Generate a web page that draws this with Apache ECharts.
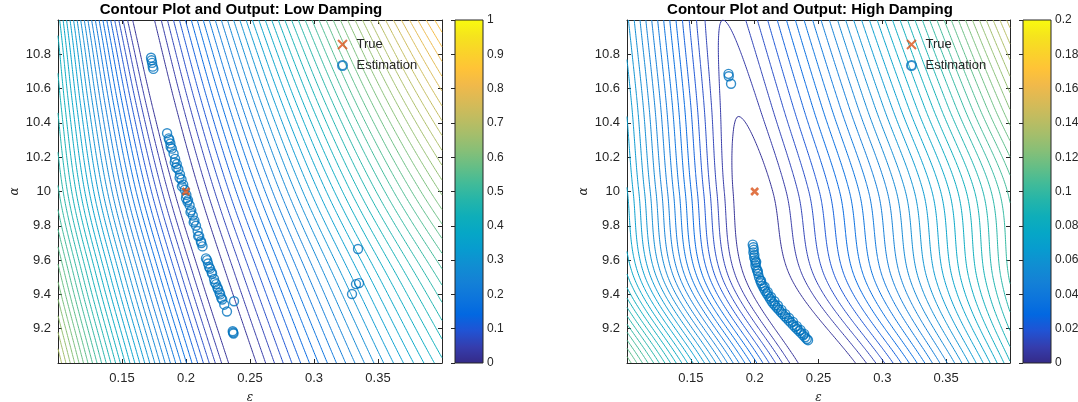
<!DOCTYPE html>
<html><head><meta charset="utf-8">
<script src="https://cdn.jsdelivr.net/npm/echarts@6/dist/echarts.min.js"></script>
<style>html,body{margin:0;padding:0;background:#fff;}#chart{width:1078px;height:402px;}</style>
</head><body><div id="chart"></div>
<script>
// ---------------- data ----------------
const titles = ['Contour Plot and Output: Low Damping', 'Contour Plot and Output: High Damping'];
const xName = 'ε', yName = 'α';
const xRange = [0.1, 0.4];
const yRange = [9, 11];
const xTickStep = 0.05, yTickStep = 0.2;
const colorRangeLow = [0, 1], colorRangeHigh = [0, 0.2];
const colorTickLow = 0.1, colorTickHigh = 0.02;
const levelStepLow = 0.02, levelStepHigh = 0.004;
const trueParams = [[0.2, 10]];
const estLow = [
  [0.1727,10.780],[0.1731,10.765],[0.1735,10.750],[0.1740,10.728],[0.1745,10.715],
  [0.1852,10.34],[0.1865,10.31],[0.1878,10.28],[0.1890,10.25],[0.1903,10.22],[0.1915,10.19],[0.1928,10.16],
  [0.1940,10.13],[0.1953,10.10],[0.1965,10.07],[0.1978,10.04],[0.1990,10.01],[0.2003,9.98],[0.2016,9.95],
  [0.2028,9.92],[0.2041,9.89],[0.2053,9.86],[0.2066,9.83],[0.2078,9.80],[0.2091,9.77],[0.2103,9.74],
  [0.2116,9.71],[0.2129,9.68],
  [0.1880,10.26],[0.1912,10.17],[0.1950,10.08],[0.1968,10.03],[0.2000,9.96],[0.2035,9.88],[0.2060,9.82],
  [0.2095,9.74],[0.2120,9.70],[0.1870,10.30],[0.1925,10.14],[0.2012,9.94],
  [0.2156,9.61],[0.2172,9.58],[0.2188,9.55],[0.2204,9.52],[0.2219,9.49],[0.2235,9.46],[0.2251,9.43],
  [0.2267,9.40],[0.2283,9.37],[0.2299,9.34],[0.2320,9.30],
  [0.2165,9.60],[0.2180,9.56],[0.2200,9.53],[0.2225,9.47],[0.2245,9.44],[0.2262,9.41],[0.2275,9.38],
  [0.2375,9.36],
  [0.2365,9.185],[0.2368,9.178],[0.2371,9.172],
  [0.3344,9.665],[0.3297,9.402],[0.3328,9.460],[0.3352,9.466]
];
const estHigh = [
  [0.1795,10.686],[0.1797,10.672],[0.1815,10.628],
  [0.1985,9.690],[0.1990,9.675],[0.1993,9.660],[0.1990,9.645],[0.1998,9.630],[0.1996,9.615],[0.2003,9.600],
  [0.2008,9.585],[0.2006,9.570],[0.2013,9.555],[0.2019,9.540],[0.2027,9.520],[0.2034,9.500],[0.2044,9.480],
  [0.2052,9.465],[0.2062,9.450],[0.2072,9.435],[0.2083,9.420],[0.2095,9.405],[0.2108,9.390],[0.2120,9.375],
  [0.2133,9.360],[0.2146,9.347],[0.2160,9.335],[0.2175,9.322],[0.2190,9.310],[0.2205,9.297],[0.2220,9.285],
  [0.2236,9.272],[0.2252,9.260],[0.2268,9.247],[0.2284,9.235],[0.2300,9.222],[0.2316,9.210],[0.2332,9.198],
  [0.2348,9.186],[0.2364,9.174],[0.2380,9.162],[0.2395,9.150],[0.2408,9.140],[0.2418,9.133],
  [0.2078,9.445],[0.2102,9.415],[0.2128,9.385],[0.2155,9.360],[0.2182,9.335],[0.2210,9.310],[0.2240,9.285],
  [0.2270,9.262],[0.2300,9.240],[0.2330,9.215],[0.2360,9.192],[0.2388,9.170],[0.2050,9.480],[0.2025,9.535],
  [0.2012,9.590]
];
// cost-surface shape estimated from the contour picture (knots along alpha)
const knotA = [9, 9.5, 10, 10.5, 11];
const lowValleyE  = [0.243, 0.221, 0.200, 0.182, 0.166];
const lowSlopeL   = [4.2, 4.4, 4.7, 5.4, 6.3];
const lowSlopeR   = [3.2, 3.5, 3.9, 4.3, 4.7];
const lowShiftR   = [0, 0, 0, 0, 0];
const lowFloor    = [0, 0, 0, 0, 0];
const lowShape    = [0.008, 1.5, -0.8];     // width, left curvature, right curvature
const highValleyE = [0.248, 0.206, 0.196, 0.186, 0.175];
const highSlopeL  = [0.92, 0.92, 0.92, 0.92, 0.92];
const highSlopeR  = [0.62, 0.50, 0.48, 0.52, 0.56];
const highShiftR  = [0.014, 0.003, 0, 0, 0];
const highFloor   = [0, 0, 0.0005, 0.0045, 0.008];
const highShape   = [0.02, 0, 0.8];
// MATLAB parula (every 3rd entry of parula(64))
const parulaStops = [
  [0.2081,0.1663,0.5292],[0.2081,0.2386,0.6771],[0.1253,0.3242,0.8303],[0.0060,0.4086,0.8828],
  [0.0498,0.4586,0.8641],[0.0779,0.5040,0.8384],[0.0641,0.5570,0.8240],[0.0265,0.6137,0.8135],
  [0.0228,0.6535,0.7768],[0.0590,0.6838,0.7254],[0.1453,0.7098,0.6646],[0.2586,0.7317,0.5954],
  [0.3953,0.7459,0.5244],[0.5300,0.7491,0.4661],[0.6473,0.7456,0.4188],[0.7525,0.7384,0.3768],
  [0.8507,0.7299,0.3360],[0.9450,0.7261,0.2886],[0.9990,0.7653,0.2164],[0.9789,0.8271,0.1633],
  [0.9589,0.8949,0.1132],[0.9763,0.9831,0.0538]
];
const colTrue = '#D95319', colEst = '#0072BD', axisCol = '#262626';
const FONT = '"Liberation Sans", Arial, Helvetica, sans-serif';

// ---------------- helpers ----------------
function spline(vals, a) {
  const h = knotA[1] - knotA[0];
  let t = (a - knotA[0]) / h;
  const n = vals.length;
  let i = Math.floor(t);
  if (i < 0) i = 0; if (i > n - 2) i = n - 2;
  const u = t - i;
  const p = k => k < 0 ? 2 * vals[0] - vals[1] : (k > n - 1 ? 2 * vals[n - 1] - vals[n - 2] : vals[k]);
  const p0 = p(i - 1), p1 = p(i), p2 = p(i + 1), p3 = p(i + 2);
  return 0.5 * ((2 * p1) + (-p0 + p2) * u + (2 * p0 - 5 * p1 + 4 * p2 - p3) * u * u + (-p0 + 3 * p1 - 3 * p2 + p3) * u * u * u);
}
function makeSurface(valley, kL, kR, shiftR, floor, shape) {
  const [w, qL, qR] = shape;
  return (e, a) => {
    let d = e - spline(valley, a);
    if (d > 0) d = Math.max(0, d - spline(shiftR, a));
    const s = Math.abs(d);
    const g = Math.sqrt(s * s + w * w) - w + (d < 0 ? qL : qR) * s * s;
    return spline(floor, a) + (d < 0 ? spline(kL, a) : spline(kR, a)) * g;
  };
}
function parula(t) {
  t = Math.max(0, Math.min(1, t));
  const n = parulaStops.length - 1, f = t * n;
  const i = Math.min(n - 1, Math.floor(f)), u = f - i;
  const c = [0, 1, 2].map(k => Math.round(255 * (parulaStops[i][k] * (1 - u) + parulaStops[i + 1][k] * u)));
  return 'rgb(' + c.join(',') + ')';
}
function contourLines(xs, ys, Z, L) {
  const P = new Map(), adj = new Map();
  const pt = (key, i1, j1, i2, j2) => {
    if (!P.has(key)) {
      const v1 = Z[j1][i1], v2 = Z[j2][i2], t = (L - v1) / (v2 - v1);
      P.set(key, [xs[i1] + t * (xs[i2] - xs[i1]), ys[j1] + t * (ys[j2] - ys[j1])]);
    }
    return key;
  };
  const link = (a, b) => {
    if (!adj.has(a)) adj.set(a, []); if (!adj.has(b)) adj.set(b, []);
    adj.get(a).push(b); adj.get(b).push(a);
  };
  for (let j = 0; j < ys.length - 1; j++) for (let i = 0; i < xs.length - 1; i++) {
    const v0 = Z[j][i], v1 = Z[j][i + 1], v2 = Z[j + 1][i + 1], v3 = Z[j + 1][i];
    const b0 = v0 >= L, b1 = v1 >= L, b2 = v2 >= L, b3 = v3 >= L;
    const e = [null, null, null, null];
    if (b0 !== b1) e[0] = pt('h' + i + '_' + j, i, j, i + 1, j);
    if (b1 !== b2) e[1] = pt('v' + (i + 1) + '_' + j, i + 1, j, i + 1, j + 1);
    if (b3 !== b2) e[2] = pt('h' + i + '_' + (j + 1), i, j + 1, i + 1, j + 1);
    if (b0 !== b3) e[3] = pt('v' + i + '_' + j, i, j, i, j + 1);
    const on = e.filter(x => x !== null);
    if (on.length === 2) link(on[0], on[1]);
    else if (on.length === 4) {
      const c = (v0 + v1 + v2 + v3) / 4 >= L;
      if (c === b0) { link(e[0], e[1]); link(e[2], e[3]); } else { link(e[3], e[0]); link(e[1], e[2]); }
    }
  }
  const visited = new Set(), out = [];
  const walk = start => {
    const path = [P.get(start)]; visited.add(start);
    let cur = start;
    while (true) {
      let next = null;
      for (const nb of adj.get(cur)) if (!visited.has(nb)) { next = nb; break; }
      if (next === null) { if (adj.get(cur).includes(start) && path.length > 2) path.push(P.get(start)); break; }
      visited.add(next); path.push(P.get(next)); cur = next;
    }
    return path;
  };
  for (const [k, nb] of adj) if (nb.length === 1 && !visited.has(k)) out.push(walk(k));
  for (const k of adj.keys()) if (!visited.has(k)) out.push(walk(k));
  return out;
}
function buildContours(fn, step, crange) {
  const nx = 241, ny = 201, xs = [], ys = [];
  for (let i = 0; i < nx; i++) xs.push(xRange[0] + (xRange[1] - xRange[0]) * i / (nx - 1));
  for (let j = 0; j < ny; j++) ys.push(yRange[0] + (yRange[1] - yRange[0]) * j / (ny - 1));
  const Z = ys.map(a => xs.map(e => fn(e, a)));
  const data = [];
  const nL = Math.round((crange[1] - crange[0]) / step);
  for (let k = 1; k < nL; k++) {
    const L = crange[0] + k * step;
    const col = parula((L - crange[0]) / (crange[1] - crange[0]));
    for (const path of contourLines(xs, ys, Z, L)) if (path.length > 1) data.push({ coords: path, lineStyle: { color: col } });
  }
  return data;
}
const near = (v, t) => Math.abs(v - t) < 1e-9;

// ---------------- option ----------------
const lowData = buildContours(makeSurface(lowValleyE, lowSlopeL, lowSlopeR, lowShiftR, lowFloor, lowShape), levelStepLow, colorRangeLow);
const highData = buildContours(makeSurface(highValleyE, highSlopeL, highSlopeR, highShiftR, highFloor, highShape), levelStepHigh, colorRangeHigh);

const panels = [
  { plot: { left: 58, width: 384 }, cbar: { left: 455 }, title: 241, legend: 337, range: colorRangeLow, tick: colorTickLow, data: lowData, est: estLow },
  { plot: { left: 627, width: 383 }, cbar: { left: 1023 }, title: 810, legend: 906, range: colorRangeHigh, tick: colorTickHigh, data: highData, est: estHigh }
];
const grids = [], xAxes = [], yAxes = [], series = [], legends = [], graphics = [];
const tickStyle = { inside: true, length: 4, lineStyle: { color: axisCol, width: 1 } };
const lineStyleAx = { show: true, lineStyle: { color: axisCol, width: 1 } };
const lbl = { color: axisCol, fontSize: 13, fontFamily: FONT };
const gradStops = parulaStops.map((c, i) => ({ offset: i / (parulaStops.length - 1), color: 'rgb(' + c.map(v => Math.round(v * 255)).join(',') + ')' }));

panels.forEach((p, k) => {
  const gMain = grids.length;
  grids.push({ left: p.plot.left, top: 20, width: p.plot.width, height: 343, containLabel: false, outerBoundsMode: 'none' });
  const gBar = grids.length;
  grids.push({ left: p.cbar.left, top: 20, width: 28, height: 343, containLabel: false, outerBoundsMode: 'none' });
  const xb = xAxes.length;
  xAxes.push({ type: 'value', gridIndex: gMain, min: xRange[0], max: xRange[1], interval: xTickStep, position: 'bottom',
    axisLine: lineStyleAx, axisTick: tickStyle, splitLine: { show: false },
    axisLabel: Object.assign({ margin: 9, formatter: v => (near(v, xRange[0]) || near(v, xRange[1])) ? '' : String(+v.toFixed(2)) }, lbl),
    name: xName, nameLocation: 'middle', nameGap: 29, nameTextStyle: { fontSize: 12, fontStyle: 'italic', color: axisCol, fontFamily: 'DejaVu Serif, serif' } });
  xAxes.push({ type: 'value', gridIndex: gMain, min: xRange[0], max: xRange[1], interval: xTickStep, position: 'top',
    axisLine: lineStyleAx, axisTick: tickStyle, axisLabel: { show: false }, splitLine: { show: false } });
  const xc = xAxes.length;
  xAxes.push({ type: 'value', gridIndex: gBar, min: 0, max: 1, show: false });
  const yl = yAxes.length;
  yAxes.push({ type: 'value', gridIndex: gMain, min: yRange[0], max: yRange[1], interval: yTickStep, position: 'left',
    axisLine: lineStyleAx, axisTick: tickStyle, splitLine: { show: false },
    axisLabel: Object.assign({ margin: 7, formatter: v => (near(v, yRange[0]) || near(v, yRange[1])) ? '' : String(+v.toFixed(1)) }, lbl),
    name: yName, nameLocation: 'middle', nameGap: 37, nameRotate: 90, nameTextStyle: { fontSize: 12, fontStyle: 'italic', color: axisCol, fontFamily: 'DejaVu Serif, serif' } });
  yAxes.push({ type: 'value', gridIndex: gMain, min: yRange[0], max: yRange[1], interval: yTickStep, position: 'right',
    axisLine: lineStyleAx, axisTick: tickStyle, axisLabel: { show: false }, splitLine: { show: false } });
  const yc = yAxes.length;
  yAxes.push({ type: 'value', gridIndex: gBar, min: p.range[0], max: p.range[1], interval: p.tick, position: 'right',
    axisLine: { show: false }, axisTick: { inside: true, length: 4, lineStyle: { color: axisCol } }, splitLine: { show: false },
    axisLabel: { margin: 4, color: axisCol, fontSize: 12, fontFamily: FONT, formatter: v => String(+v.toFixed(2)) } });

  series.push({ type: 'lines', coordinateSystem: 'cartesian2d', xAxisIndex: xb, yAxisIndex: yl, polyline: true,
    silent: true, animation: false, lineStyle: { width: 1, opacity: 1 }, data: p.data, z: 2 });
  series.push({ type: 'custom', xAxisIndex: xc, yAxisIndex: yc, silent: true, animation: false,
    data: [[p.range[0], p.range[1]]], encode: { y: [0, 1] },
    renderItem: (params, api) => {
      const a = api.coord([0, api.value(0)]), b = api.coord([1, api.value(1)]);
      return { type: 'rect', shape: { x: a[0], y: b[1], width: b[0] - a[0], height: a[1] - b[1] },
        style: { fill: new echarts.graphic.LinearGradient(0, 1, 0, 0, gradStops), stroke: axisCol, lineWidth: 1 } };
    } });
  series.push({ name: 'True', type: 'scatter', xAxisIndex: xb, yAxisIndex: yl, data: trueParams, z: 6,
    symbol: 'path://M0,0L10,10M10,0L0,10', symbolSize: 7, animation: false,
    itemStyle: { color: 'rgba(0,0,0,0)', borderColor: colTrue, borderWidth: 2.6 } });
  series.push({ name: 'Estimation', type: 'scatter', xAxisIndex: xb, yAxisIndex: yl, data: p.est, z: 5,
    symbol: 'circle', symbolSize: 9, animation: false,
    itemStyle: { color: 'rgba(0,0,0,0)', borderColor: colEst, borderWidth: 1.4 } });
  legends.push({ data: ['True', 'Estimation'], orient: 'vertical', left: p.legend, top: 38, padding: 0,
    itemWidth: 18, itemHeight: 9, itemGap: 8, selectedMode: false,
    textStyle: { fontSize: 13, color: axisCol, fontFamily: FONT } });
  graphics.push({ type: 'text', x: p.title, y: 10, style: { text: titles[k], textAlign: 'center', textVerticalAlign: 'middle',
    font: 'bold 15px ' + FONT, fill: '#000' } });
});

const chart = echarts.init(document.getElementById('chart'), null, { renderer: 'canvas' });
chart.setOption({ animation: false, backgroundColor: '#fff', grid: grids, xAxis: xAxes, yAxis: yAxes,
  series: series, legend: legends, graphic: graphics });
</script></body></html>
